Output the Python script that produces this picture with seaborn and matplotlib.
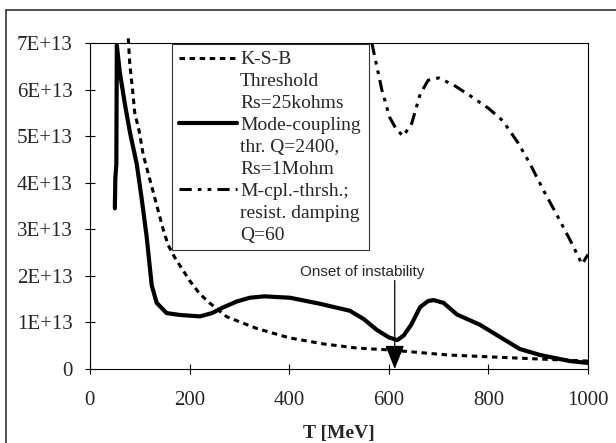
import matplotlib
matplotlib.use('Agg')
import pandas as pd
import matplotlib.pyplot as plt
import seaborn as sns
from matplotlib.lines import Line2D
from matplotlib.ticker import FuncFormatter

# values, intensity in units of 1E+13
ksb_T = [77, 80, 86, 90, 99, 107, 117, 127, 137, 147, 157, 170, 185, 200, 220, 240,
         275, 335, 400, 468, 536, 600, 720, 890, 1000]
ksb_I = [7.1, 6.55, 5.95, 5.5, 5.1, 4.6, 4.2, 3.8, 3.4, 3.0, 2.66, 2.4, 2.15, 1.9, 1.62, 1.42,
         1.12, 0.87, 0.67, 0.54, 0.45, 0.41, 0.3, 0.22, 0.17]

mc_T = [50, 51, 53, 54, 60, 70, 80, 94, 104, 114, 124, 134, 154, 181, 221,
        245, 267, 295, 321, 350, 402, 462, 522, 550, 576, 600, 617, 630, 645,
        663, 679, 690, 710, 737, 783, 823, 863, 904, 964, 1000]
mc_I = [3.45, 4.1, 4.4, 6.95, 6.37, 5.7, 5.1, 4.4, 3.65, 2.83, 1.8, 1.42, 1.2, 1.16, 1.13,
        1.2, 1.32, 1.45, 1.53, 1.56, 1.53, 1.4, 1.25, 1.07, 0.84, 0.68, 0.62, 0.72, 0.95,
        1.33, 1.46, 1.48, 1.42, 1.17, 0.95, 0.69, 0.43, 0.3, 0.17, 0.13]

rd_T = [566, 586, 602, 615, 629, 646, 663, 679, 700, 730, 763, 800, 829, 860,
        884, 910, 938, 965, 988, 1000]
rd_I = [7.0, 6.0, 5.4, 5.15, 5.0, 5.27, 5.9, 6.2, 6.25, 6.1, 5.87, 5.6, 5.33, 4.85,
        4.4, 3.85, 3.3, 2.75, 2.25, 2.46]

onset_T = 612

legend_labels = [
    ['K-S-B', 'Threshold', 'Rs=25kohms'],
    ['Mode-coupling', 'thr. Q=2400,', 'Rs=1Mohm'],
    ['M-cpl.-thrsh.;', 'resist. damping', 'Q=60'],
]

sns.set_style('white')
plt.rcParams['font.family'] = ['Liberation Serif', 'DejaVu Serif']

fig, ax = plt.subplots(figsize=(6.16, 4.43), dpi=100)
fig.subplots_adjust(left=0.146, right=0.9545, bottom=1 - 369 / 443, top=1 - 43 / 443)

ksb = pd.DataFrame({'T': ksb_T, 'I': [v * 1e13 for v in ksb_I]})
mc = pd.DataFrame({'T': mc_T, 'I': [v * 1e13 for v in mc_I]})
rd = pd.DataFrame({'T': rd_T, 'I': [v * 1e13 for v in rd_I]})

sns.lineplot(data=ksb, x='T', y='I', ax=ax, color='black', lw=2.2,
             linestyle=(0, (1.8, 1.5)), clip_on=False, sort=False)
sns.lineplot(data=mc, x='T', y='I', ax=ax, color='black', lw=3.0, sort=False)
sns.lineplot(data=rd, x='T', y='I', ax=ax, color='black', lw=2.2,
             linestyle=(0, (4, 2, 1.2, 2, 1.2, 2)), sort=False)

ax.set_xlim(0, 1000)
ax.set_ylim(0, 7e13)
ax.set_xticks(range(0, 1001, 200))
ax.set_yticks([i * 1e13 for i in range(8)])
ax.yaxis.set_major_formatter(FuncFormatter(lambda v, p: '0' if v == 0 else f'{int(round(v / 1e13))}E+13'))
ax.tick_params(direction='inout', length=7, width=0.8, color='black', labelsize=15,
               bottom=True, left=True)
ax.tick_params(axis='x', pad=12)
ax.tick_params(axis='y', pad=9)
for s in ax.spines.values():
    s.set_color('black')
    s.set_linewidth(0.8)

ax.set_xlabel('T [MeV]', fontsize=14, fontweight='bold', labelpad=11)
ax.set_ylabel('')

# onset of instability marker
ax.annotate('', xy=(onset_T, 0), xytext=(onset_T, 1.9e13),
            arrowprops=dict(arrowstyle='-|>,head_length=0.75,head_width=0.3',
                            mutation_scale=20, color='black', lw=0.9,
                            shrinkA=0, shrinkB=0))
ax.text(546, 2.08e13, 'Onset of instability', ha='center', va='center',
        fontsize=11, family=['Liberation Sans', 'DejaVu Sans'])

# legend: one handle per series, blank handles for continuation lines
handles, labels = [], []
blank = Line2D([], [], color='none')
for line, lab in zip(ax.lines[:3], legend_labels):
    for i, part in enumerate(lab):
        handles.append(line if i == 0 else blank)
        labels.append(part)
leg = ax.legend(handles, labels, loc='upper left', bbox_to_anchor=(0.165, 0.37, 0.3956, 0.627),
                mode='expand', borderaxespad=0, fontsize=14, frameon=True, fancybox=False,
                handlelength=3.0, handletextpad=0.15, labelspacing=0.22,
                borderpad=0.35)
leg.get_frame().set_edgecolor('black')
leg.get_frame().set_linewidth(0.8)

# outer frame of the scanned figure (left and top edges)
fig.add_artist(Line2D([0.0097, 0.0097], [0, 1 - 10 / 443], color='#333333', lw=1.2,
                      transform=fig.transFigure))
fig.add_artist(Line2D([0.0097, 1], [1 - 10 / 443, 1 - 10 / 443], color='#333333', lw=1.2,
                      transform=fig.transFigure))

fig.savefig('out.png', dpi=100)
